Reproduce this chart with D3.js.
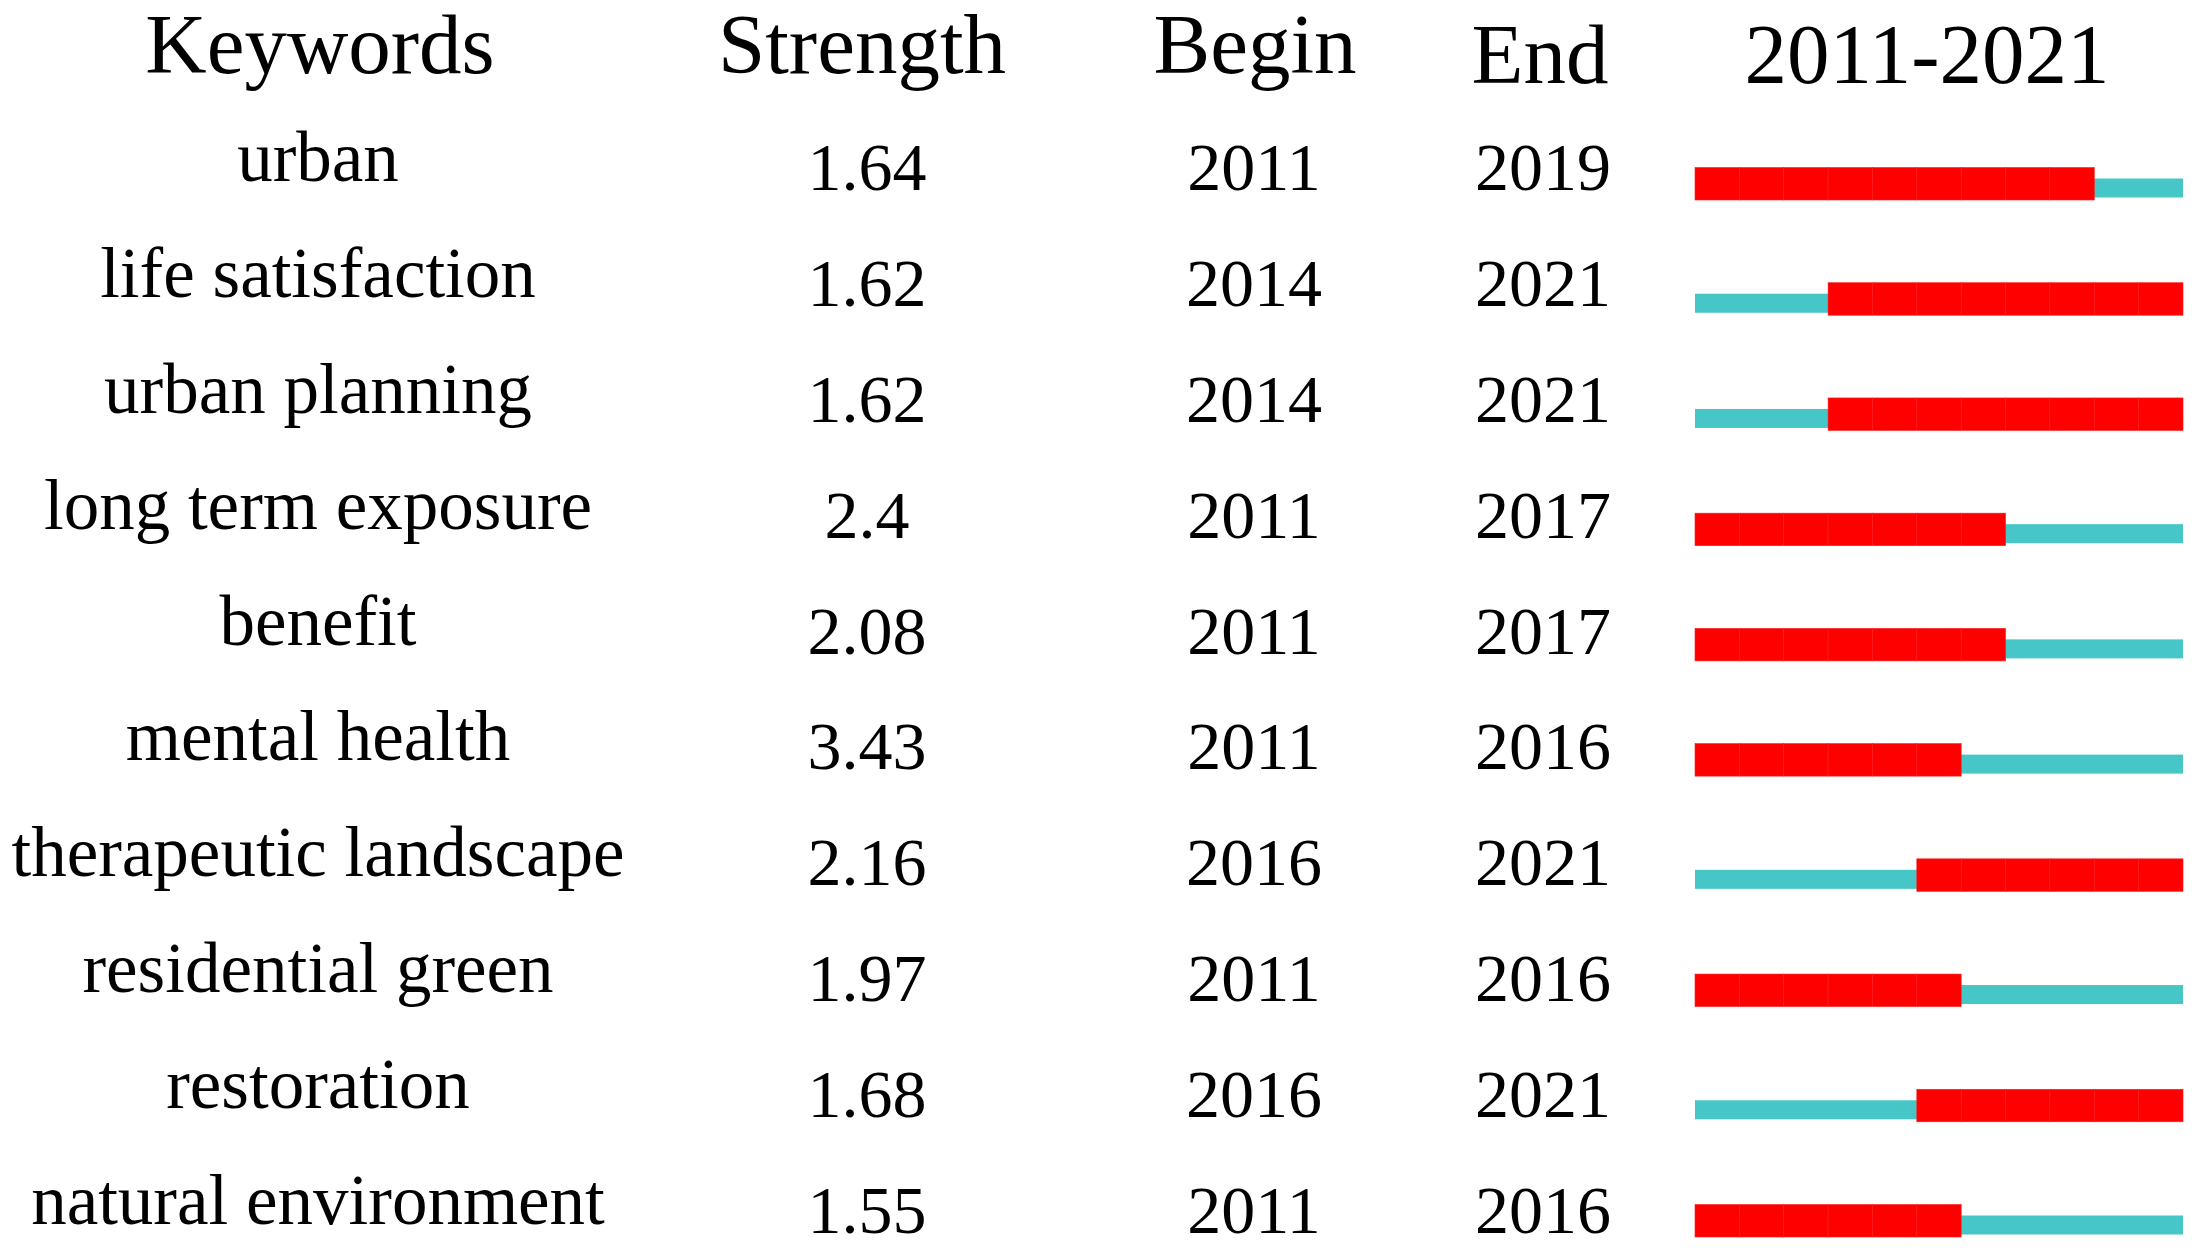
<!DOCTYPE html>
<html>
<head>
<meta charset="utf-8">
<script src="https://d3js.org/d3.v7.min.js"></script>
<style>
    body { margin: 0; background: #fff; }
    text { font-family: "Liberation Serif", "Times New Roman", serif; fill: #000; }
</style>
</head>
<body>
<div id="chart"></div>
<script>
    // keyword burst table
    var keywords = ["urban", "life satisfaction", "urban planning", "long term exposure", "benefit",
        "mental health", "therapeutic landscape", "residential green", "restoration", "natural environment"];
    var strength = [1.64, 1.62, 1.62, 2.4, 2.08, 3.43, 2.16, 1.97, 1.68, 1.55];
    var begins = [2011, 2014, 2014, 2011, 2011, 2011, 2016, 2011, 2016, 2011];
    var ends = [2019, 2021, 2021, 2017, 2017, 2016, 2021, 2016, 2021, 2016];
    var firstYear = 2011, lastYear = 2021;
    var headers = ["Keywords", "Strength", "Begin", "End", firstYear + "-" + lastYear];

    var width = 2204, height = 1258;

    var svg = d3.select("#chart").append("svg")
        .attr("width", width)
        .attr("height", height);

    svg.append("rect").attr("width", width).attr("height", height).attr("fill", "#fff");

    var rows = d3.range(keywords.length);
    var years = d3.range(firstYear, lastYear + 1);

    // scales
    var xYear = d3.scaleLinear().domain([firstYear, lastYear + 1]).range([1695, 2183]);
    var yText = d3.scaleLinear().domain([0, rows.length - 1]).range([190, 1233]);
    var yBar = d3.scaleLinear().domain([0, rows.length - 1]).range([200, 1237]);

    var colX = { kw: 318, strength: 867, begin: 1254, end: 1543 };

    // header
    var headX = [320, 862, 1255, 1540, 1927];
    var headY = [73, 73, 73, 83, 83];
    svg.selectAll(".head")
        .data(headers)
        .enter()
        .append("text")
        .attr("class", "head")
        .attr("x", function (d, i) { return headX[i]; })
        .attr("y", function (d, i) { return headY[i]; })
        .attr("text-anchor", "middle")
        .style("font-size", "85px")
        .text(function (d) { return d; });

    var row = svg.selectAll(".row")
        .data(rows)
        .enter()
        .append("g")
        .attr("class", "row");

    row.append("text")
        .attr("x", colX.kw)
        .attr("y", function (i) { return yText(i) - 9; })
        .attr("text-anchor", "middle")
        .style("font-size", "71px")
        .text(function (i) { return keywords[i]; });

    row.append("text")
        .attr("x", colX.strength)
        .attr("y", function (i) { return yText(i); })
        .attr("text-anchor", "middle")
        .style("font-size", "68px")
        .text(function (i) { return String(strength[i]); });

    row.append("text")
        .attr("x", colX.begin)
        .attr("y", function (i) { return yText(i); })
        .attr("text-anchor", "middle")
        .style("font-size", "68px")
        .text(function (i) { return begins[i]; });

    row.append("text")
        .attr("x", colX.end)
        .attr("y", function (i) { return yText(i); })
        .attr("text-anchor", "middle")
        .style("font-size", "68px")
        .text(function (i) { return ends[i]; });

    // thin cyan line for the whole period
    row.append("rect")
        .attr("x", xYear(firstYear))
        .attr("y", function (i) { return yBar(i) - 21.5; })
        .attr("width", xYear(lastYear + 1) - xYear(firstYear))
        .attr("height", 19)
        .attr("fill", "#46c6c6");

    // red burst cells, one per year
    row.selectAll(".burst")
        .data(function (i) {
            return years.filter(function (y) { return y >= begins[i] && y <= ends[i]; })
                .map(function (y) { return { year: y, row: i }; });
        })
        .enter()
        .append("rect")
        .attr("class", "burst")
        .attr("x", function (d) { return xYear(d.year); })
        .attr("y", function (d) { return yBar(d.row) - 32.5; })
        .attr("width", function (d) { return xYear(d.year + 1) - xYear(d.year); })
        .attr("height", 32.5)
        .attr("fill", "#ff0000")
        .attr("stroke", "#ff1c1c")
        .attr("stroke-width", 0.6);
</script>
</body>
</html>
